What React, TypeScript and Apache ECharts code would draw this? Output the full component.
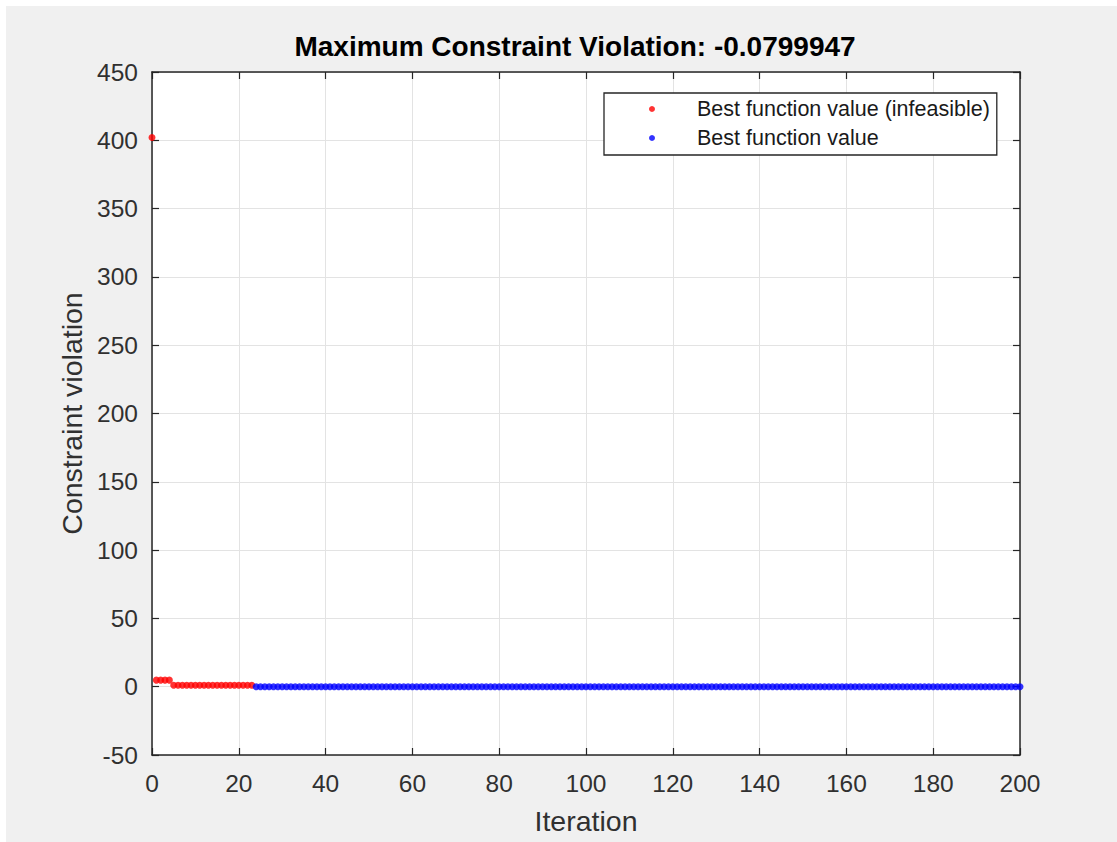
import React, { useEffect, useRef } from "react";
import * as echarts from "echarts";

const TITLE = "Maximum Constraint Violation: -0.0799947";
const X_LABEL = "Iteration";
const Y_LABEL = "Constraint violation";
const SERIES_NAMES = ["Best function value (infeasible)", "Best function value"];

const X_MIN = 0;
const X_MAX = 200;
const X_STEP = 20;
const Y_MIN = -50;
const Y_MAX = 450;
const Y_STEP = 50;

// Infeasible best points (red), starting at iteration 0
const infeasibleStart = 0;
const infeasibleValues = [
  402,
  4.8, 4.8, 4.8, 4.8,
  1.0, 1.0, 1.0, 1.0, 1.0, 1.0, 1.0, 1.0, 1.0, 1.0,
  1.0, 1.0, 1.0, 1.0, 1.0, 1.0, 1.0, 1.0, 1.0,
];

// Feasible best points (blue), starting at iteration 24
const feasibleStart = 24;
const feasibleValues = [
  -0.08, -0.08, -0.08, -0.08, -0.08, -0.08, -0.08, -0.08, -0.08, -0.08,
  -0.08, -0.08, -0.08, -0.08, -0.08, -0.08, -0.08, -0.08, -0.08, -0.08,
  -0.08, -0.08, -0.08, -0.08, -0.08, -0.08, -0.08, -0.08, -0.08, -0.08,
  -0.08, -0.08, -0.08, -0.08, -0.08, -0.08, -0.08, -0.08, -0.08, -0.08,
  -0.08, -0.08, -0.08, -0.08, -0.08, -0.08, -0.08, -0.08, -0.08, -0.08,
  -0.08, -0.08, -0.08, -0.08, -0.08, -0.08, -0.08, -0.08, -0.08, -0.08,
  -0.08, -0.08, -0.08, -0.08, -0.08, -0.08, -0.08, -0.08, -0.08, -0.08,
  -0.08, -0.08, -0.08, -0.08, -0.08, -0.08, -0.08, -0.08, -0.08, -0.08,
  -0.08, -0.08, -0.08, -0.08, -0.08, -0.08, -0.08, -0.08, -0.08, -0.08,
  -0.08, -0.08, -0.08, -0.08, -0.08, -0.08, -0.08, -0.08, -0.08, -0.08,
  -0.08, -0.08, -0.08, -0.08, -0.08, -0.08, -0.08, -0.08, -0.08, -0.08,
  -0.08, -0.08, -0.08, -0.08, -0.08, -0.08, -0.08, -0.08, -0.08, -0.08,
  -0.08, -0.08, -0.08, -0.08, -0.08, -0.08, -0.08, -0.08, -0.08, -0.08,
  -0.08, -0.08, -0.08, -0.08, -0.08, -0.08, -0.08, -0.08, -0.08, -0.08,
  -0.08, -0.08, -0.08, -0.08, -0.08, -0.08, -0.08, -0.08, -0.08, -0.08,
  -0.08, -0.08, -0.08, -0.08, -0.08, -0.08, -0.08, -0.08, -0.08, -0.08,
  -0.08, -0.08, -0.08, -0.08, -0.08, -0.08, -0.08, -0.08, -0.08, -0.08,
  -0.08, -0.08, -0.08, -0.08, -0.08, -0.08, -0.08,
];

const FONT = "Liberation Sans, Arial, Helvetica, sans-serif";
const AXIS_COLOR = "#262626";
const LABEL_COLOR = "#303030";

export default function App() {
  const ref = useRef<HTMLDivElement>(null);

  useEffect(() => {
    if (!ref.current) return;
    const chart = echarts.init(ref.current, undefined, { renderer: "svg" });

    const infeasibleData = infeasibleValues.map((v, i) => [infeasibleStart + i, v]);
    const feasibleData = feasibleValues.map((v, i) => [feasibleStart + i, v]);

    const axisLine = { show: true, onZero: false, lineStyle: { color: AXIS_COLOR, width: 1.5 } };
    const axisTick = { show: true, inside: true, length: 7, lineStyle: { color: AXIS_COLOR, width: 1.2 } };

    chart.setOption({
      animation: false,
      backgroundColor: "#f0f0f0",
      title: {
        text: TITLE,
        left: 569,
        top: 26,
        padding: 0,
        textAlign: "center",
        textStyle: { fontFamily: FONT, fontSize: 28, fontWeight: "bold", color: "#000" },
      },
      legend: {
        orient: "vertical",
        left: 598,
        top: 87,
        padding: [5, 7, 6, 45],
        itemGap: 7,
        itemWidth: 6,
        itemHeight: 6,
        icon: "circle",
        backgroundColor: "#fff",
        borderColor: AXIS_COLOR,
        borderWidth: 1.3,
        borderRadius: 0,
        textStyle: {
          fontFamily: FONT,
          fontSize: 21.5,
          lineHeight: 22,
          color: "#1a1a1a",
          padding: [0, 0, 0, 37],
        },
        data: SERIES_NAMES,
      },
      grid: {
        show: true,
        left: 146,
        top: 66,
        right: 97,
        bottom: 87,
        backgroundColor: "#fff",
        borderWidth: 0,
      },
      xAxis: [
        {
          type: "value",
          min: X_MIN,
          max: X_MAX,
          interval: X_STEP,
          position: "bottom",
          name: X_LABEL,
          nameLocation: "middle",
          nameGap: 51,
          nameTextStyle: { fontFamily: FONT, fontSize: 28.5, color: LABEL_COLOR },
          axisLine,
          axisTick,
          axisLabel: { fontFamily: FONT, fontSize: 24.5, color: LABEL_COLOR, margin: 16 },
          splitLine: { show: true, lineStyle: { color: "#e3e3e3", width: 1 } },
        },
        {
          type: "value",
          min: X_MIN,
          max: X_MAX,
          interval: X_STEP,
          position: "top",
          axisLine,
          axisTick,
          axisLabel: { show: false },
          splitLine: { show: false },
        },
      ],
      yAxis: [
        {
          type: "value",
          min: Y_MIN,
          max: Y_MAX,
          interval: Y_STEP,
          position: "left",
          name: Y_LABEL,
          nameLocation: "middle",
          nameGap: 66,
          nameTextStyle: { fontFamily: FONT, fontSize: 28.5, color: LABEL_COLOR },
          axisLine,
          axisTick,
          axisLabel: { fontFamily: FONT, fontSize: 24.5, color: LABEL_COLOR, margin: 14 },
          splitLine: { show: true, lineStyle: { color: "#e3e3e3", width: 1 } },
        },
        {
          type: "value",
          min: Y_MIN,
          max: Y_MAX,
          interval: Y_STEP,
          position: "right",
          axisLine,
          axisTick,
          axisLabel: { show: false },
          splitLine: { show: false },
        },
      ],
      series: [
        {
          name: SERIES_NAMES[0],
          type: "scatter",
          xAxisIndex: 0,
          yAxisIndex: 0,
          symbol: "circle",
          symbolSize: 7,
          itemStyle: { color: "#ff0000" },
          data: infeasibleData,
          z: 3,
        },
        {
          name: SERIES_NAMES[1],
          type: "scatter",
          xAxisIndex: 0,
          yAxisIndex: 0,
          symbol: "circle",
          symbolSize: 7,
          itemStyle: { color: "#0000ff" },
          data: feasibleData,
          z: 3,
        },
      ],
    });

    return () => chart.dispose();
  }, []);

  return (
    <div style={{ position: "fixed", left: 0, top: 0, width: 1117, height: 842, background: "#fff" }}>
      <div ref={ref} style={{ position: "absolute", left: 6, top: 6, width: 1111, height: 836 }} />
    </div>
  );
}
